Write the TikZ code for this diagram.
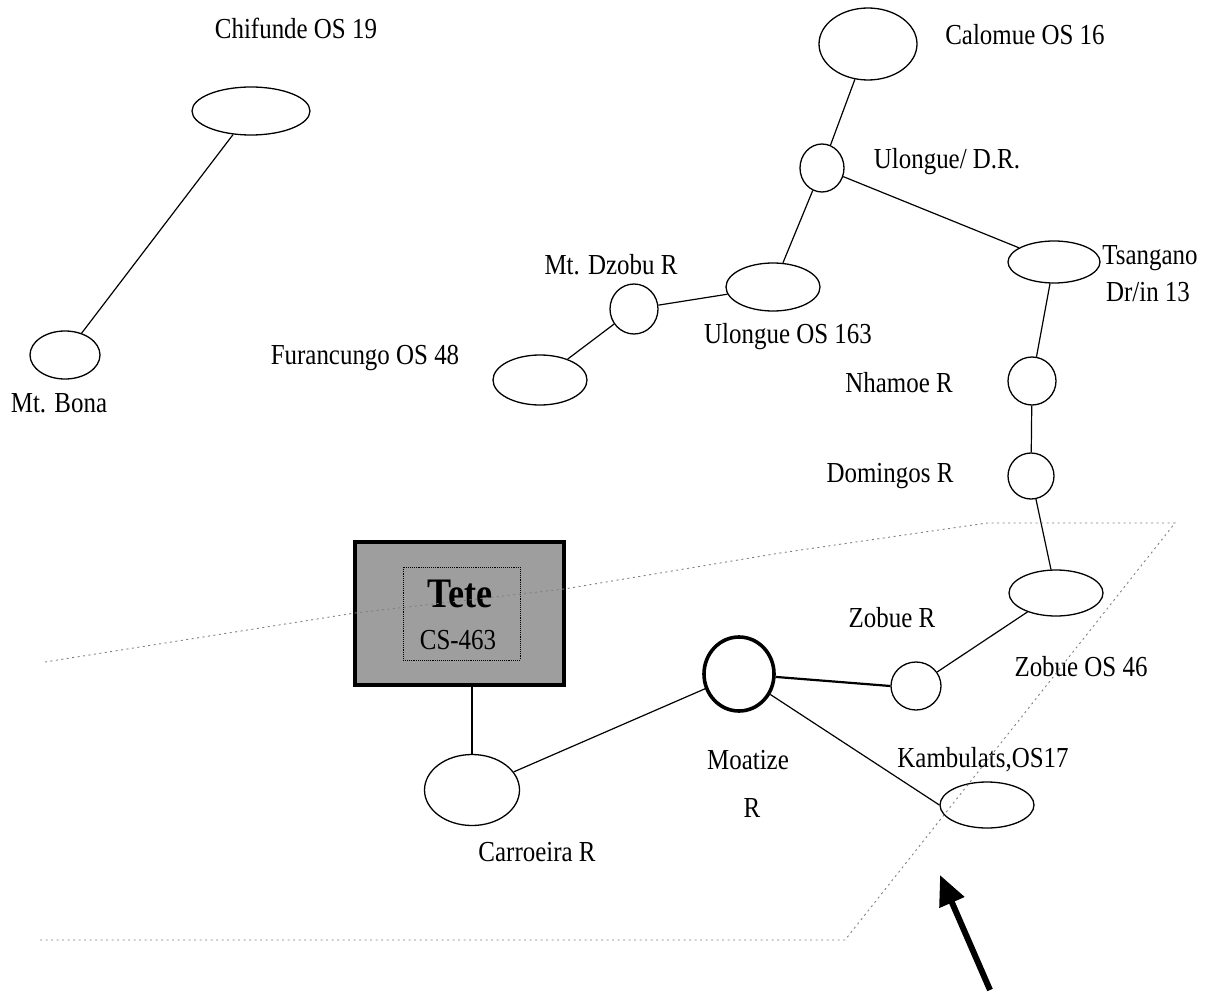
\documentclass[tikz,border=0pt]{standalone}
\usepackage{fontspec}
\setmainfont{Liberation Serif}[FakeStretch=0.86]
\usetikzlibrary{shapes.geometric,arrows.meta}
\begin{document}
\begin{tikzpicture}[x=1pt,y=-1pt,
  site/.style={draw,ellipse,line width=1.3pt,inner sep=0pt},
  link/.style={line width=1.2pt},
  lbl/.style={font=\fontsize{29}{32}\selectfont,inner sep=0pt},
  boundary/.style={black!50,line width=0.9pt,dash pattern=on 2pt off 3.5pt},
  hub/.style={site,line width=3.6pt}
]
\useasboundingbox (0,0) rectangle (1217,995);

% ---- sites ----
\node[site,minimum width=118,minimum height=48] (chif)  at (251,111) {};
\node[site,minimum width=70, minimum height=48] (bona)  at (65,355)  {};
\node[site,minimum width=98, minimum height=72] (calo)  at (868,44)  {};
\node[site,minimum width=44, minimum height=48] (uldr)  at (822,168) {};
\node[site,minimum width=92, minimum height=42] (tsan)  at (1054,262) {};
\node[site,minimum width=94, minimum height=48] (ulos)  at (773,287) {};
\node[site,minimum width=48, minimum height=50] (dzob)  at (634,309) {};
\node[site,minimum width=94, minimum height=50] (fura)  at (540,380) {};
\node[site,minimum width=48, minimum height=48] (nham)  at (1032,381) {};
\node[site,minimum width=46, minimum height=46] (domi)  at (1031,476) {};
\node[site,minimum width=94, minimum height=46] (zo46)  at (1056,593) {};
\node[site,minimum width=50, minimum height=48] (zobr)  at (916,686) {};
\node[hub, minimum width=70, minimum height=74] (moat)  at (739,674) {};
\node[site,minimum width=94, minimum height=46] (kamb)  at (987,805) {};
\node[site,minimum width=95, minimum height=71] (carr)  at (472,790) {};

% ---- provincial headquarters box ----
\node[draw,line width=4.5pt,fill=black!38,minimum width=209,minimum height=143,inner sep=0pt] (tete) at (459.5,613.5) {};
\node[draw,densely dotted,line width=0.9pt,minimum width=117,minimum height=93,inner sep=0pt] (tetein) at (461.5,613.5) {};
\node[inner sep=0pt,font=\fontsize{42}{44}\selectfont\bfseries] (tetename) at (460,594) {Tete};
\node[lbl] (tetecode) at (458,640) {CS-463};

% ---- labels ----
\node[lbl] (lchif) at (296,28)  {Chifunde OS 19};
\node[lbl] (lbona) at (59,403)  {Mt. Bona};
\node[lbl] (lcalo) at (1025,35) {Calomue OS 16};
\node[lbl] (luldr) at (947,162) {Ulongue/ D.R.};
\node[lbl] (ltsan) at (1150,258) {Tsangano};
\node[lbl] (ltsdr) at (1148,292) {Dr/in 13};
\node[lbl] (ldzob) at (611,265) {Mt. Dzobu R};
\node[lbl] (lulos) at (788,337) {Ulongue OS 163};
\node[lbl] (lfura) at (365,358) {Furancungo OS 48};
\node[lbl] (lnham) at (899,383) {Nhamoe R};
\node[lbl] (ldomi) at (890,476) {Domingos R};
\node[lbl] (lzobr) at (892,618) {Zobue R};
\node[lbl] (lzo46) at (1081,667) {Zobue OS 46};
\node[lbl] (lkamb) at (983,760) {Kambulats,OS17};
\node[lbl] (lmoat) at (748,760) {Moatize};
\node[lbl] (lmoatr) at (752,808) {R};
\node[lbl] (lcarr) at (537,852) {Carroeira R};

% ---- links ----
\draw[link] (chif) -- (bona);
\draw[link] (calo) -- (uldr);
\draw[link] (uldr) -- (tsan);
\draw[link] (uldr) -- (ulos);
\draw[link] (dzob) -- (ulos);
\draw[link] (fura) -- (dzob);
\draw[link] (tsan) -- (nham);
\draw[link] (nham) -- (domi);
\draw[link] (domi) -- (zo46);
\draw[link] (zo46) -- (zobr);
\draw[line width=2.2pt] (moat) -- (zobr.west);
\draw[link] (moat) -- (kamb.west);
\draw[link] (carr) -- (moat);
\draw[link] (carr.north) -- (carr.north |- tete.south);

% ---- district boundary ----
\draw[boundary] (45,662) -- (355,613) -- (564,589) -- (780,553) -- (987,523)
  -- (1175,523) -- (845,940) -- (40,940);

% ---- pointer ----
\coordinate (atail) at (990,990);
\coordinate (atip) at (940,875);
\draw[line width=6pt,-{Triangle[length=30pt,width=26pt]}] (atail) -- (atip);
\end{tikzpicture}
\end{document}
